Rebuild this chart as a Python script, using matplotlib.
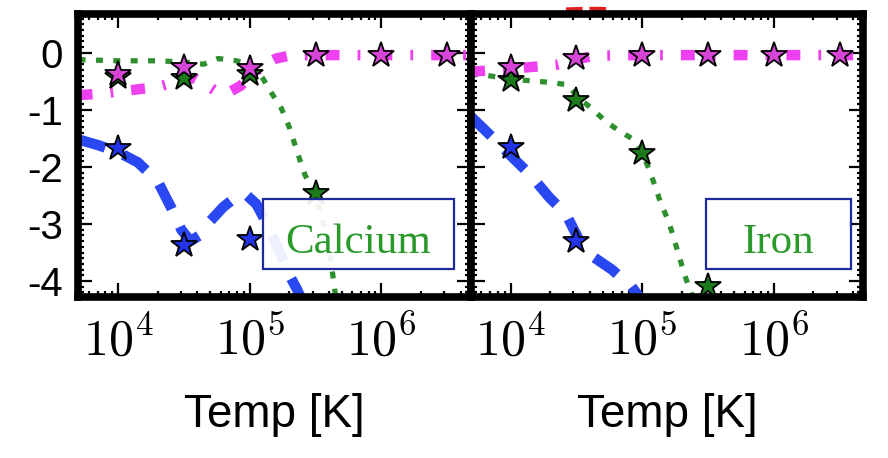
import numpy as np
import matplotlib
matplotlib.use("Agg")
import matplotlib.pyplot as plt
from matplotlib.patches import Rectangle
from matplotlib.ticker import LogLocator, MultipleLocator, NullFormatter

plt.rcParams["font.family"] = ["Liberation Sans", "DejaVu Sans"]
plt.rcParams["mathtext.fontset"] = "cm"
plt.rcParams["axes.unicode_minus"] = False
plt.rcParams["lines.scale_dashes"] = False

####################################
# Data: log10 ion fraction vs log10 temperature
panel_names = ["Calcium", "Iron"]
xtick_labels = [r"$10^4$", r"$10^5$", r"$10^6$"]
ytick_labels = ["-4", "-3", "-2", "-1", "0"]

# star markers (simulation points)
logT_stars = [4.0, 4.5, 5.0, 5.5, 6.0, 6.5]
ca_mag_stars = [-0.38, -0.24, -0.27, -0.04, -0.03, -0.03]
ca_grn_stars = [-0.42, -0.44, -0.38, -2.45]
ca_blu_stars = [-1.67, -3.37, -3.26]
fe_mag_stars = [-0.25, -0.09, -0.04, -0.04, -0.04, -0.04]
fe_grn_stars = [-0.47, -0.82, -1.75, -4.08]
fe_blu_stars = [-1.65, -3.30]

# equilibrium curves, Calcium
ca_mag_logT = [3.70, 3.85, 4.00, 4.15, 4.30, 4.45, 4.58, 4.66, 4.75, 4.85, 4.93,
               5.00, 5.10, 5.20, 5.30, 5.50, 6.00, 6.70]
ca_mag_y = [-0.74, -0.72, -0.68, -0.64, -0.60, -0.50, -0.44, -0.55, -0.68, -0.68,
            -0.58, -0.42, -0.22, -0.10, -0.05, -0.04, -0.04, -0.04]
ca_grn_logT = [3.70, 4.00, 4.30, 4.50, 4.65, 4.76, 4.90, 5.00, 5.05, 5.10, 5.17,
               5.24, 5.30, 5.37, 5.42, 5.50, 5.56, 5.62, 5.66]
ca_grn_y = [-0.12, -0.14, -0.14, -0.16, -0.20, -0.10, -0.14, -0.20, -0.30, -0.45,
            -0.72, -0.97, -1.30, -1.80, -2.14, -2.50, -3.00, -3.70, -4.40]
ca_blu_logT = [3.70, 3.85, 4.00, 4.15, 4.30, 4.40, 4.48, 4.55, 4.62, 4.70, 4.80,
               4.90, 4.97, 5.05, 5.12, 5.20, 5.28, 5.36, 5.45]
ca_blu_y = [-1.52, -1.62, -1.74, -1.92, -2.25, -2.70, -3.10, -3.30, -3.20, -2.95,
            -2.70, -2.52, -2.48, -2.65, -2.95, -3.35, -3.80, -4.15, -4.60]

# equilibrium curves, Iron
fe_mag_logT = [3.70, 3.90, 4.15, 4.35, 4.45, 4.55, 4.65, 5.00, 6.70]
fe_mag_y = [-0.33, -0.30, -0.25, -0.21, -0.15, -0.09, -0.05, -0.04, -0.04]
fe_grn_logT = [3.70, 3.83, 4.00, 4.20, 4.31, 4.43, 4.53, 4.62, 4.72, 4.82, 4.92,
               5.00, 5.05, 5.10, 5.14, 5.20, 5.24, 5.28, 5.32, 5.37, 5.42]
fe_grn_y = [-0.36, -0.40, -0.46, -0.50, -0.52, -0.56, -0.82, -0.98, -1.20, -1.36,
            -1.50, -1.75, -2.03, -2.35, -2.63, -2.95, -3.25, -3.56, -3.88, -4.20, -4.50]
fe_blu_logT = [3.70, 3.87, 4.00, 4.15, 4.30, 4.42, 4.53, 4.63, 4.77, 4.92, 5.00]
fe_blu_y = [-1.12, -1.50, -1.80, -2.14, -2.55, -2.82, -3.33, -3.58, -3.80, -4.10, -4.35]

# bit of the red curve from the panel above, showing over the top frame
fe_red_logT = [4.42, 4.55, 4.68, 4.76]
fe_red_y = [0.76, 0.77, 0.77, 0.76]

####################################
# Styles
c_mag, c_grn, c_blu = "#ee40ee", "#2e8f2e", "#2a48f2"
star_fc = {"mag": "#d645d6", "grn": "#1c7a1c", "blu": "#2234e6"}
ls_mag = (0, (10, 13, 2, 13))
ls_grn = (0, (5, 7.5))
ls_blu = (0, (20, 14))

fig = plt.figure(figsize=(8.88, 4.58), dpi=100)
ax_ca = fig.add_axes([0.0884, 0.3515, 0.4420, 0.6179])
ax_fe = fig.add_axes([0.5304, 0.3515, 0.4420, 0.6179])

panels = [
    (ax_ca, (ca_mag_logT, ca_mag_y), (ca_grn_logT, ca_grn_y), (ca_blu_logT, ca_blu_y),
     ca_mag_stars, ca_grn_stars, ca_blu_stars),
    (ax_fe, (fe_mag_logT, fe_mag_y), (fe_grn_logT, fe_grn_y), (fe_blu_logT, fe_blu_y),
     fe_mag_stars, fe_grn_stars, fe_blu_stars),
]

for ax, mag, grn, blu, s_mag, s_grn, s_blu in panels:
    T = lambda lt: 10 ** np.asarray(lt)
    ax.plot(T(grn[0]), grn[1], color=c_grn, lw=3.8, linestyle=ls_grn,
            dash_capstyle="butt", zorder=2)
    ax.plot(T(blu[0]), blu[1], color=c_blu, lw=7.5, linestyle=ls_blu,
            dash_capstyle="butt", zorder=2)
    ax.plot(T(mag[0]), mag[1], color=c_mag, lw=7.5, linestyle=ls_mag,
            dash_capstyle="butt", zorder=2)

    star_kw = dict(linestyle="none", marker="*", ms=19, mec="black", mew=1.3, zorder=4)
    ax.plot(T(logT_stars[:len(s_grn)]), s_grn, mfc=star_fc["grn"], **star_kw)
    ax.plot(T(logT_stars[:len(s_blu)]), s_blu, mfc=star_fc["blu"], **star_kw)
    ax.plot(T(logT_stars[:len(s_mag)]), s_mag, mfc=star_fc["mag"], **star_kw)

    ax.set_xscale("log")
    ax.set_xlim(5.0e3, 4.8e6)
    ax.set_ylim(-4.28, 0.68)
    ax.set_xticks([1e4, 1e5, 1e6])
    ax.set_xticklabels(xtick_labels, fontsize=36)
    ax.xaxis.set_minor_locator(LogLocator(base=10, subs=(2, 3, 4, 5, 6, 7, 8, 9)))
    ax.xaxis.set_minor_formatter(NullFormatter())
    ax.set_yticks([-4, -3, -2, -1, 0])
    ax.yaxis.set_minor_locator(MultipleLocator(0.1))
    ax.tick_params(which="both", direction="in", top=True, right=True, width=1.6)
    ax.tick_params(which="major", length=10)
    ax.tick_params(which="minor", length=4.5)
    ax.tick_params(axis="x", pad=14)
    for sp in ax.spines.values():
        sp.set_linewidth(5.5)
    ax.set_xlabel("Temp [K]", fontsize=33, labelpad=20)

ax_ca.set_yticklabels(ytick_labels, fontsize=29)
ax_ca.tick_params(axis="y", pad=11)
ax_fe.tick_params(axis="y", labelleft=False)

ax_fe.plot(10 ** np.asarray(fe_red_logT), fe_red_y, color="#e02020", lw=3,
           linestyle=(0, (12, 5)), dash_capstyle="butt", clip_on=False, zorder=1)

# element name boxes
boxes = [(ax_ca, 0.469, 0.957, 0.713), (ax_fe, 0.599, 0.967, 0.782)]
for (ax, x0, x1, xc), name in zip(boxes, panel_names):
    ax.add_patch(Rectangle((x0, 0.100), x1 - x0, 0.248, transform=ax.transAxes,
                           facecolor=(1, 1, 1, 0.92), edgecolor="#1f2a9c", lw=1.6,
                           zorder=5))
    ax.text(xc, 0.155, name, transform=ax.transAxes, ha="center", va="baseline",
            fontsize=31, color="#2a9a2a", family=["Liberation Serif", "DejaVu Serif"],
            zorder=6)

plt.savefig("out.png", dpi=100)
